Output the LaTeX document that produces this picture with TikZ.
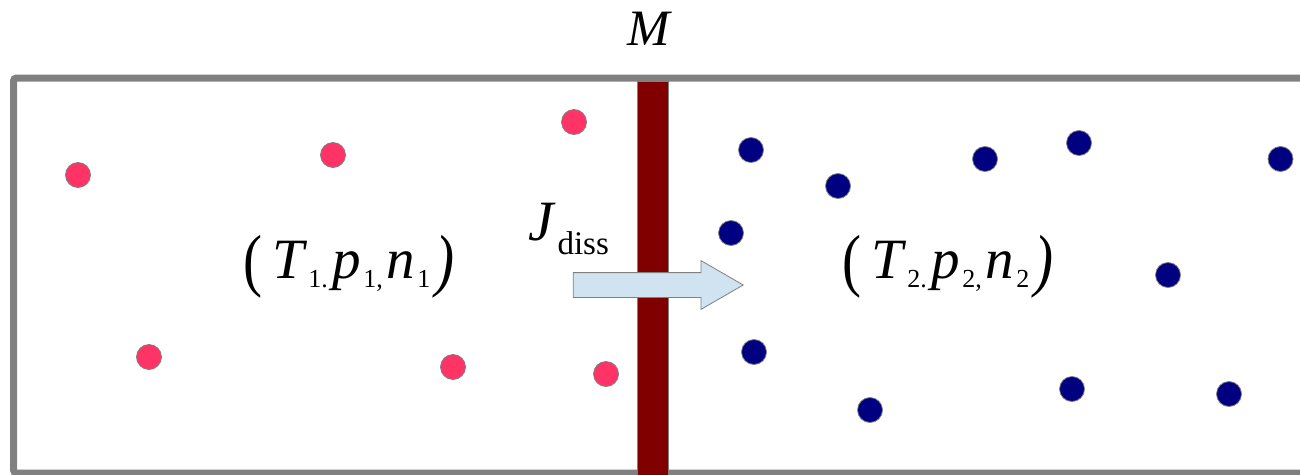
\documentclass[tikz,border=0pt]{standalone}
\usepackage{fontspec}
\setmainfont{Liberation Serif}
\usetikzlibrary{shapes.arrows}
\definecolor{wallgray}{RGB}{128,128,128}
\definecolor{membrane}{RGB}{128,0,0}
\definecolor{hot}{RGB}{255,51,102}
\definecolor{cold}{RGB}{0,0,128}
\definecolor{fluxblue}{RGB}{207,227,241}
\tikzset{
  hotdot/.style={circle, fill=hot, draw=wallgray, line width=0.8pt, minimum size=25pt, inner sep=0pt},
  colddot/.style={circle, fill=cold, draw=wallgray, line width=0.8pt, minimum size=25pt, inner sep=0pt},
  bigtext/.style={inner sep=0pt, font=\fontsize{57}{60}\selectfont},
}
\newcommand{\subsc}[1]{\raisebox{-9pt}{\fontsize{26}{28}\selectfont #1}}
\newcommand{\bigparen}[1]{\raisebox{-5pt}{\scalebox{1}[1.22]{#1}}}
\newcommand{\statelabel}[1]{\bigparen{(}\kern10pt\itshape T\kern4pt\subsc{\upshape #1.}\kern5pt p\kern2pt\subsc{\upshape #1,}\kern4pt n\kern2pt\subsc{\upshape #1}\kern5pt\bigparen{)}}
\begin{document}
\begin{tikzpicture}[x=1pt,y=-1pt]
\useasboundingbox (0,0) rectangle (1300,474);
\begin{scope}
\clip (0,0) rectangle (1300,474);
% container
\draw[wallgray, line width=7pt, rounded corners=3pt] (1320,78) -- (13.5,78) -- (13.5,473) -- (1320,473);
% membrane
\node[draw=wallgray, fill=membrane, line width=0.8pt, minimum width=31pt, minimum height=420pt, inner sep=0pt, anchor=north] (mem) at (652.5,81) {};
\end{scope}
% membrane label
\node[bigtext, font=\fontsize{51}{54}\selectfont\itshape] (mlabel) at (649,29) {M};
% flux arrow
\node[single arrow, draw=wallgray, fill=fluxblue, line width=0.8pt, minimum height=170pt, inner xsep=0pt, inner ysep=12pt, single arrow head extend=12pt, single arrow tip angle=60, anchor=tip] (flux) at (744,285) {};
\node[bigtext, anchor=base west] (jlabel) at (528,240) {\itshape J\kern4pt\raisebox{-14pt}{\upshape\fontsize{33}{35}\selectfont diss}};
% state labels
\node[bigtext] (left) at (349,267) {\statelabel{1}};
\node[bigtext] (right) at (948,267) {\statelabel{2}};
% particles, side 1
\node[hotdot] (h1) at (78,175) {};
\node[hotdot] (h2) at (333,155) {};
\node[hotdot] (h3) at (574,122) {};
\node[hotdot] (h4) at (149,357) {};
\node[hotdot] (h5) at (453,367) {};
\node[hotdot] (h6) at (606,374) {};
% particles, side 2
\node[colddot] (c1) at (751,150) {};
\node[colddot] (c2) at (838,186) {};
\node[colddot] (c3) at (985,159) {};
\node[colddot] (c4) at (1079,143) {};
\node[colddot] (c5) at (1280.5,159) {};
\node[colddot] (c6) at (731,233) {};
\node[colddot] (c7) at (1168,275) {};
\node[colddot] (c8) at (754,352) {};
\node[colddot] (c9) at (870,410) {};
\node[colddot] (c10) at (1072,389) {};
\node[colddot] (c11) at (1229,394) {};
\end{tikzpicture}
\end{document}
